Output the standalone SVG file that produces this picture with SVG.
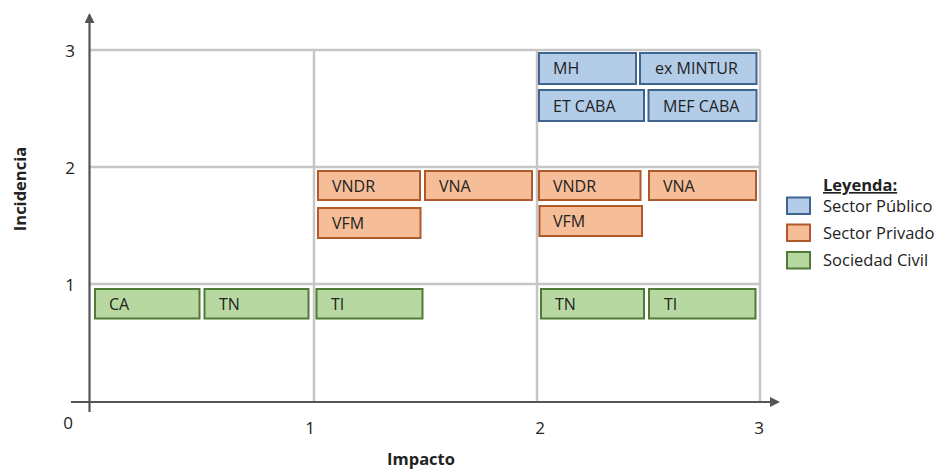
<svg xmlns="http://www.w3.org/2000/svg" width="945" height="469" viewBox="0 0 945 469">
<defs>
<style>
.grid{stroke:#c6c6c6;stroke-width:2.5;fill:none}
.axis{stroke:#555;stroke-width:2.2;fill:none}
.pub{fill:#b3cde9;stroke:#3e6590;stroke-width:2}
.pri{fill:#f6bd99;stroke:#b05a2c;stroke-width:2}
.civ{fill:#b8d8a1;stroke:#4f7a37;stroke-width:2}
.t{font-family:"Open Sans","Noto Sans",sans-serif;font-size:16px;fill:#222}
.tick{font-family:"Open Sans","Noto Sans",sans-serif;font-size:17px;fill:#222}
.lab{font-family:"Open Sans","Noto Sans",sans-serif;font-size:16.5px;font-weight:bold;fill:#222}
.leg{font-family:"Open Sans","Noto Sans",sans-serif;font-size:16.5px;fill:#222}
</style>
<marker id="arr" markerWidth="10" markerHeight="10" refX="8" refY="5" orient="auto" markerUnits="userSpaceOnUse">
<path d="M0,0 L10,5 L0,10 Z" fill="#555"/>
</marker>
</defs>
<rect width="945" height="469" fill="#fff"/>
<g id="grid">
<line class="grid" x1="90" y1="50" x2="760" y2="50"/>
<line class="grid" x1="90" y1="167" x2="760" y2="167"/>
<line class="grid" x1="90" y1="284" x2="760" y2="284"/>
<line class="grid" x1="314" y1="50" x2="314" y2="401"/>
<line class="grid" x1="537" y1="50" x2="537" y2="401"/>
<line class="grid" x1="760" y1="50" x2="760" y2="401"/>
</g>
<g id="connectors">
<line class="axis" x1="89.5" y1="412" x2="89.5" y2="15" marker-end="url(#arr)"/>
<line class="axis" x1="71" y1="402" x2="778" y2="402" marker-end="url(#arr)"/>
</g>
<g id="ticks">
<text class="tick" x="70" y="57" text-anchor="middle">3</text>
<text class="tick" x="70" y="174" text-anchor="middle">2</text>
<text class="tick" x="70" y="291" text-anchor="middle">1</text>
<text class="tick" x="68" y="429" text-anchor="middle">0</text>
<text class="tick" x="310" y="434" text-anchor="middle">1</text>
<text class="tick" x="540" y="434" text-anchor="middle">2</text>
<text class="tick" x="759" y="434" text-anchor="middle">3</text>
<text class="lab" x="421" y="465" text-anchor="middle">Impacto</text>
<text class="lab" transform="translate(26,189) rotate(-90)" text-anchor="middle">Incidencia</text>
</g>
<g id="n-mh"><rect class="pub" x="539" y="53" width="97" height="31"/><text class="t" x="553" y="74">MH</text></g>
<g id="n-exmintur"><rect class="pub" x="640" y="53" width="116.5" height="31"/><text class="t" x="655" y="74">ex MINTUR</text></g>
<g id="n-etcaba"><rect class="pub" x="539" y="90" width="105" height="31"/><text class="t" x="553" y="112">ET CABA</text></g>
<g id="n-mefcaba"><rect class="pub" x="648.5" y="90" width="108" height="31"/><text class="t" x="663" y="112">MEF CABA</text></g>
<g id="n-vndr1"><rect class="pri" x="318" y="171" width="102" height="29"/><text class="t" x="332" y="192">VNDR</text></g>
<g id="n-vna1"><rect class="pri" x="425" y="171" width="107" height="29"/><text class="t" x="439" y="192">VNA</text></g>
<g id="n-vfm1"><rect class="pri" x="318" y="208" width="102.5" height="30"/><text class="t" x="332" y="229">VFM</text></g>
<g id="n-vndr2"><rect class="pri" x="539" y="171" width="101.5" height="29"/><text class="t" x="553" y="192">VNDR</text></g>
<g id="n-vna2"><rect class="pri" x="649" y="171" width="107" height="29"/><text class="t" x="663" y="192">VNA</text></g>
<g id="n-vfm2"><rect class="pri" x="539.5" y="206" width="102.5" height="30"/><text class="t" x="553" y="227">VFM</text></g>
<g id="n-ca"><rect class="civ" x="95" y="289" width="104.5" height="29.5"/><text class="t" x="109" y="310">CA</text></g>
<g id="n-tn1"><rect class="civ" x="204.5" y="289" width="104" height="29.5"/><text class="t" x="219" y="310">TN</text></g>
<g id="n-ti1"><rect class="civ" x="316.5" y="289" width="106" height="29.5"/><text class="t" x="331" y="310">TI</text></g>
<g id="n-tn2"><rect class="civ" x="541" y="289" width="103" height="29.5"/><text class="t" x="555" y="310">TN</text></g>
<g id="n-ti2"><rect class="civ" x="649" y="289" width="106.5" height="29.5"/><text class="t" x="664" y="310">TI</text></g>
<g id="legend">
<text class="leg" x="823" y="191" font-weight="bold" text-decoration="underline">Leyenda:</text>
<rect class="pub" x="787" y="197.5" width="23" height="16.5"/>
<text class="leg" x="823" y="212">Sector Público</text>
<rect class="pri" x="787" y="224.5" width="23" height="16.5"/>
<text class="leg" x="823" y="239">Sector Privado</text>
<rect class="civ" x="787" y="252" width="23" height="16.5"/>
<text class="leg" x="823" y="266">Sociedad Civil</text>
</g>
</svg>
